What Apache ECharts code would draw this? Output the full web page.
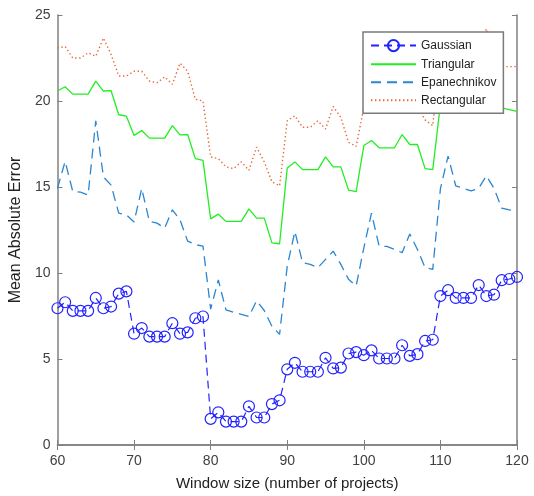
<!DOCTYPE html>
<html>
<head>
<meta charset="utf-8">
<script src="https://cdn.jsdelivr.net/npm/echarts@6/dist/echarts.min.js"></script>
<style>
  html, body { margin: 0; padding: 0; background: #fff; }
  #chart { width: 534px; height: 496px; }
</style>
</head>
<body>
<div id="chart"></div>
<script>
'use strict';

// window sizes 60 .. 120
var windowSizes = [];
for (var w = 60; w <= 120; w++) windowSizes.push(w);

var gaussian = [
  7.95, 8.3, 7.8, 7.8, 7.8, 8.55, 7.95, 8.05, 8.8, 8.93,
  6.47, 6.8, 6.3, 6.3, 6.3, 7.08, 6.47, 6.55, 7.37, 7.47,
  1.52, 1.9, 1.36, 1.36, 1.36, 2.25, 1.6, 1.6, 2.38, 2.6,
  4.4, 4.78, 4.26, 4.26, 4.26, 5.07, 4.45, 4.5, 5.32, 5.4,
  5.22, 5.5, 5.03, 5.03, 5.03, 5.8, 5.18, 5.28, 6.05, 6.12,
  8.66, 9.0, 8.55, 8.55, 8.55, 9.3, 8.66, 8.74, 9.58, 9.65, 9.77
];
var triangular = [
  20.58, 20.83, 20.4, 20.4, 20.4, 21.16, 20.58, 20.6, 19.2, 19.12,
  18.0, 18.28, 17.84, 17.84, 17.84, 18.57, 18.03, 18.05, 16.65, 16.55,
  13.15, 13.42, 13.0, 13.0, 13.0, 13.73, 13.19, 13.19, 11.75, 11.7,
  16.11, 16.46, 16.01, 16.01, 16.01, 16.75, 16.17, 16.17, 14.82, 14.73,
  17.41, 17.7, 17.28, 17.28, 17.28, 18.05, 17.47, 17.47, 16.07, 16.01,
  19.8, 20.2, 19.7, 19.7, 19.7, 20.4, 19.8, 19.8, 19.6, 19.5, 19.4
];
var epanechnikov = [
  14.92, 16.49, 14.73, 14.7, 14.53, 18.85, 15.59, 15.11, 13.48, 13.38,
  12.96, 14.92, 13.0, 12.9, 12.61, 13.67, 13.09, 11.85, 11.65, 11.56,
  7.9, 9.6, 7.85, 7.72, 7.6, 7.47, 8.39, 7.82, 6.9, 6.43,
  10.4, 12.42, 10.6, 10.5, 10.31, 10.79, 11.27, 10.5, 9.64, 9.25,
  11.46, 13.48, 11.56, 11.55, 11.37, 11.18, 12.27, 11.37, 10.31, 10.21,
  14.9, 16.8, 15.07, 14.92, 14.77, 14.92, 15.65, 14.92, 13.77, 13.67, 13.58
];
var rectangular = [
  23.08, 23.17, 22.5, 22.5, 22.8, 22.6, 23.66, 22.7, 21.45, 21.45,
  21.73, 21.73, 21.16, 21.06, 21.4, 20.97, 22.2, 21.73, 20.1, 20.0,
  16.75, 16.65, 16.17, 16.07, 16.46, 15.97, 17.32, 16.46, 15.3, 15.07,
  18.85, 19.14, 18.47, 18.47, 18.85, 18.37, 19.68, 19.05, 17.6, 17.36,
  19.62, 19.9, 19.6, 19.6, 19.6, 20.3, 19.7, 19.7, 18.9, 18.57,
  22.6, 23.0, 22.5, 22.5, 22.5, 23.1, 24.2, 22.6, 22.0, 22.0, 22.0
];

function pairs(ys) {
  return windowSizes.map(function (x, i) { return [x, ys[i]]; });
}

var axisGray = '#808080';
var labelColor = '#404040';
var font = 'Liberation Sans, Arial, sans-serif';

var myChart = echarts.init(document.getElementById('chart'));

var option = {
  backgroundColor: '#fff',
  animation: false,
  textStyle: { fontFamily: font },
  grid: { left: 54, right: 17, top: 15, bottom: 47 },
  legend: {
    orient: 'vertical',
    left: 363,
    top: 32,
    padding: [7, 7, 7, 7],
    itemWidth: 45,
    itemHeight: 14,
    itemGap: 6,
    backgroundColor: '#fff',
    borderColor: '#7a7a7a',
    borderWidth: 1.5,
    textStyle: { fontSize: 12, color: '#222', fontFamily: font },
    data: [
      { name: 'Gaussian' },
      { name: 'Triangular', itemStyle: { opacity: 0 } },
      { name: 'Epanechnikov', itemStyle: { opacity: 0 } },
      { name: 'Rectangular', itemStyle: { opacity: 0 } }
    ]
  },
  xAxis: [
    {
      type: 'value',
      min: 60, max: 120, interval: 10,
      name: 'Window size (number of projects)',
      nameLocation: 'middle',
      nameGap: 31,
      nameTextStyle: { fontSize: 15, color: '#222' },
      axisLine: { lineStyle: { color: axisGray, width: 1.5 } },
      axisTick: { inside: true, length: 5, lineStyle: { color: axisGray } },
      axisLabel: { fontSize: 14, color: labelColor, margin: 9 },
      splitLine: { show: false }
    },
    {
      type: 'value', position: 'top',
      min: 60, max: 120, interval: 10,
      axisLine: { lineStyle: { color: axisGray, width: 1.5 } },
      axisTick: { inside: true, length: 5, lineStyle: { color: axisGray } },
      axisLabel: { show: false },
      splitLine: { show: false }
    }
  ],
  yAxis: [
    {
      type: 'value',
      min: 0, max: 25, interval: 5,
      name: 'Mean Absolute Error',
      nameLocation: 'middle',
      nameGap: 23,
      nameTextStyle: { fontSize: 16, color: '#222' },
      axisLine: { show: true, lineStyle: { color: axisGray, width: 1.5 } },
      axisTick: { show: true, inside: true, length: 5, lineStyle: { color: axisGray } },
      axisLabel: { fontSize: 14, color: labelColor, margin: 7 },
      splitLine: { show: false }
    },
    {
      type: 'value', position: 'right',
      min: 0, max: 25, interval: 5,
      axisLine: { show: true, lineStyle: { color: axisGray, width: 1.5 } },
      axisTick: { show: true, inside: true, length: 5, lineStyle: { color: axisGray } },
      axisLabel: { show: false },
      splitLine: { show: false }
    }
  ],
  series: [
    {
      name: 'Gaussian',
      type: 'line',
      data: pairs(gaussian),
      symbol: 'circle',
      symbolSize: 11,
      itemStyle: { color: 'rgba(255,255,255,0)', borderColor: '#2222ff', borderWidth: 1.2 },
      lineStyle: { color: '#2222ff', width: 1.2, type: [8, 5] },
      z: 5
    },
    {
      name: 'Triangular',
      type: 'line',
      data: pairs(triangular),
      symbol: 'none',
      itemStyle: { color: '#22ee22' },
      lineStyle: { color: '#22ee22', width: 1.3, type: 'solid' }
    },
    {
      name: 'Epanechnikov',
      type: 'line',
      data: pairs(epanechnikov),
      symbol: 'none',
      itemStyle: { color: '#2a86d0' },
      lineStyle: { color: '#2a86d0', width: 1.3, type: [10, 6] }
    },
    {
      name: 'Rectangular',
      type: 'line',
      data: pairs(rectangular),
      symbol: 'none',
      itemStyle: { color: '#e8683a' },
      lineStyle: { color: '#e8683a', width: 1.4, type: [1.4, 2.6] }
    }
  ]
};

myChart.setOption(option);
</script>
</body>
</html>
